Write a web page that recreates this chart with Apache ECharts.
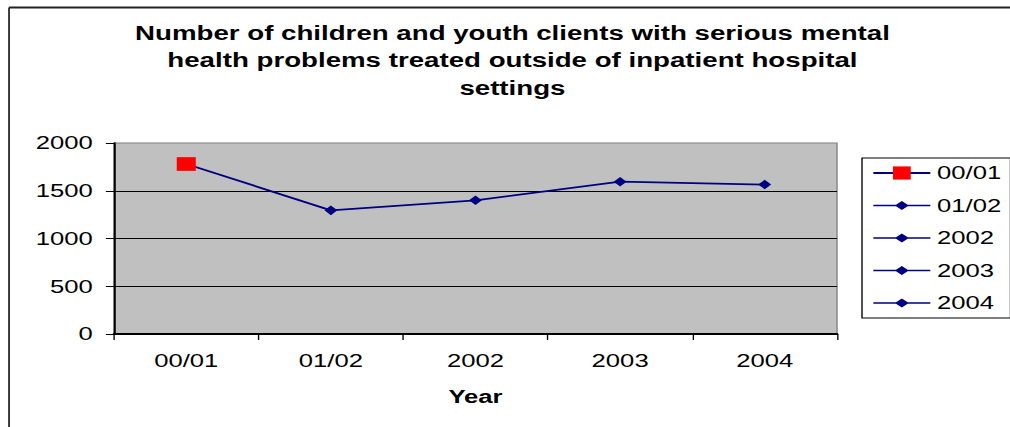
<!DOCTYPE html>
<html>
<head>
<meta charset="utf-8">
<script src="https://cdn.jsdelivr.net/npm/echarts@6/dist/echarts.min.js"></script>
<style>
  html, body { margin: 0; padding: 0; background: #fff; overflow: hidden; }
  /* The chart is laid out on a narrower canvas and widened horizontally,
     which gives the wide lettering and wide markers of the original sheet chart. */
  #chart { width: 748px; height: 427px; transform: scaleX(1.35027); transform-origin: 0 0; }
</style>
</head>
<body>
<div id="chart"></div>
<script>
const categories = ['00/01', '01/02', '2002', '2003', '2004'];
const clients = [1780, 1295, 1400, 1595, 1565];
const yAxisMin = 0;
const yAxisMax = 2000;
const yAxisStep = 500;
const titleText = 'Number of children and youth clients with serious mental\nhealth problems treated outside of inpatient hospital\nsettings';
const xAxisTitle = 'Year';

const NAVY = '#000080';
const RED = '#FF0000';
const FONT = '"Liberation Sans", Arial, sans-serif';

// legend icon for the diamond entries: a thin line with a diamond in the middle
const diamondIcon = 'path://M0,3.75 L16.7,3.75 L21,0 L25.3,3.75 L42,3.75 L42,5.25 L25.3,5.25 L21,9 L16.7,5.25 L0,5.25 Z';

const chart = echarts.init(document.getElementById('chart'), null, { renderer: 'svg' });

// one marker series per year so every point has its own legend entry
const markerSeries = categories.map((cat, k) => {
  const first = k === 0;
  return {
    name: cat,
    type: 'line',
    data: clients.map((v, i) => (i === k ? v : '-')),
    symbol: first ? 'rect' : 'diamond',
    symbolSize: first ? [14.1, 13.7] : [9.6, 9.6],
    showSymbol: true,
    itemStyle: { color: first ? RED : NAVY },
    lineStyle: { color: NAVY, width: 1.5 },
    z: 3
  };
});

const option = {
  animation: false,
  backgroundColor: '#ffffff',
  title: {
    text: titleText,
    left: 379.5,
    top: 19,
    padding: 0,
    textAlign: 'center',
    textStyle: {
      fontFamily: FONT,
      fontSize: 20.5,
      fontWeight: 'bold',
      color: '#000',
      lineHeight: 27.5
    }
  },
  graphic: [
    { type: 'line', shape: { x1: 6.7, y1: 7.5, x2: 748, y2: 7.5 }, style: { stroke: '#222', lineWidth: 2 } },
    { type: 'line', shape: { x1: 6.7, y1: 7.5, x2: 6.7, y2: 427 }, style: { stroke: '#222', lineWidth: 1.3 } }
  ],
  grid: {
    left: 84.4,
    right: 128.1,
    top: 143,
    bottom: 93,
    show: true,
    backgroundColor: '#C0C0C0',
    borderColor: '#808080',
    borderWidth: 1
  },
  legend: {
    orient: 'vertical',
    left: 638.4,
    top: 158,
    selectedMode: false,
    padding: [5.5, 6.8, 5.5, 7.4],
    itemWidth: 42.2,
    itemHeight: 16.5,
    itemGap: 13.5,
    borderColor: '#000',
    borderWidth: 1,
    backgroundColor: '#ffffff',
    textStyle: { fontFamily: FONT, fontSize: 19, color: '#000' },
    data: categories.map((cat, k) => (k === 0 ? { name: cat } : { name: cat, icon: diamondIcon }))
  },
  xAxis: {
    type: 'category',
    data: categories,
    boundaryGap: true,
    name: xAxisTitle,
    nameLocation: 'middle',
    nameGap: 53,
    nameTextStyle: { fontFamily: FONT, fontSize: 19, fontWeight: 'bold', color: '#000' },
    axisLine: { show: true, lineStyle: { color: '#000', width: 2 } },
    axisTick: { show: true, length: 6, lineStyle: { color: '#000', width: 1 } },
    axisLabel: { fontFamily: FONT, fontSize: 19, color: '#000', margin: 17 },
    splitLine: { show: false }
  },
  yAxis: {
    type: 'value',
    min: yAxisMin,
    max: yAxisMax,
    interval: yAxisStep,
    axisLine: { show: true, lineStyle: { color: '#000', width: 1.5 } },
    axisTick: { show: true, length: 6, lineStyle: { color: '#000', width: 1 } },
    axisLabel: {
      fontFamily: FONT, fontSize: 19, color: '#000', margin: 15.7,
      formatter: (v) => String(v)
    },
    splitLine: { show: true, showMaxLine: false, lineStyle: { color: '#000', width: 1 } }
  },
  series: [
    {
      name: 'Clients',
      type: 'line',
      data: clients,
      symbol: 'none',
      lineStyle: { color: NAVY, width: 1.8 },
      itemStyle: { color: NAVY },
      z: 2
    }
  ].concat(markerSeries)
};

chart.setOption(option);
</script>
</body>
</html>
